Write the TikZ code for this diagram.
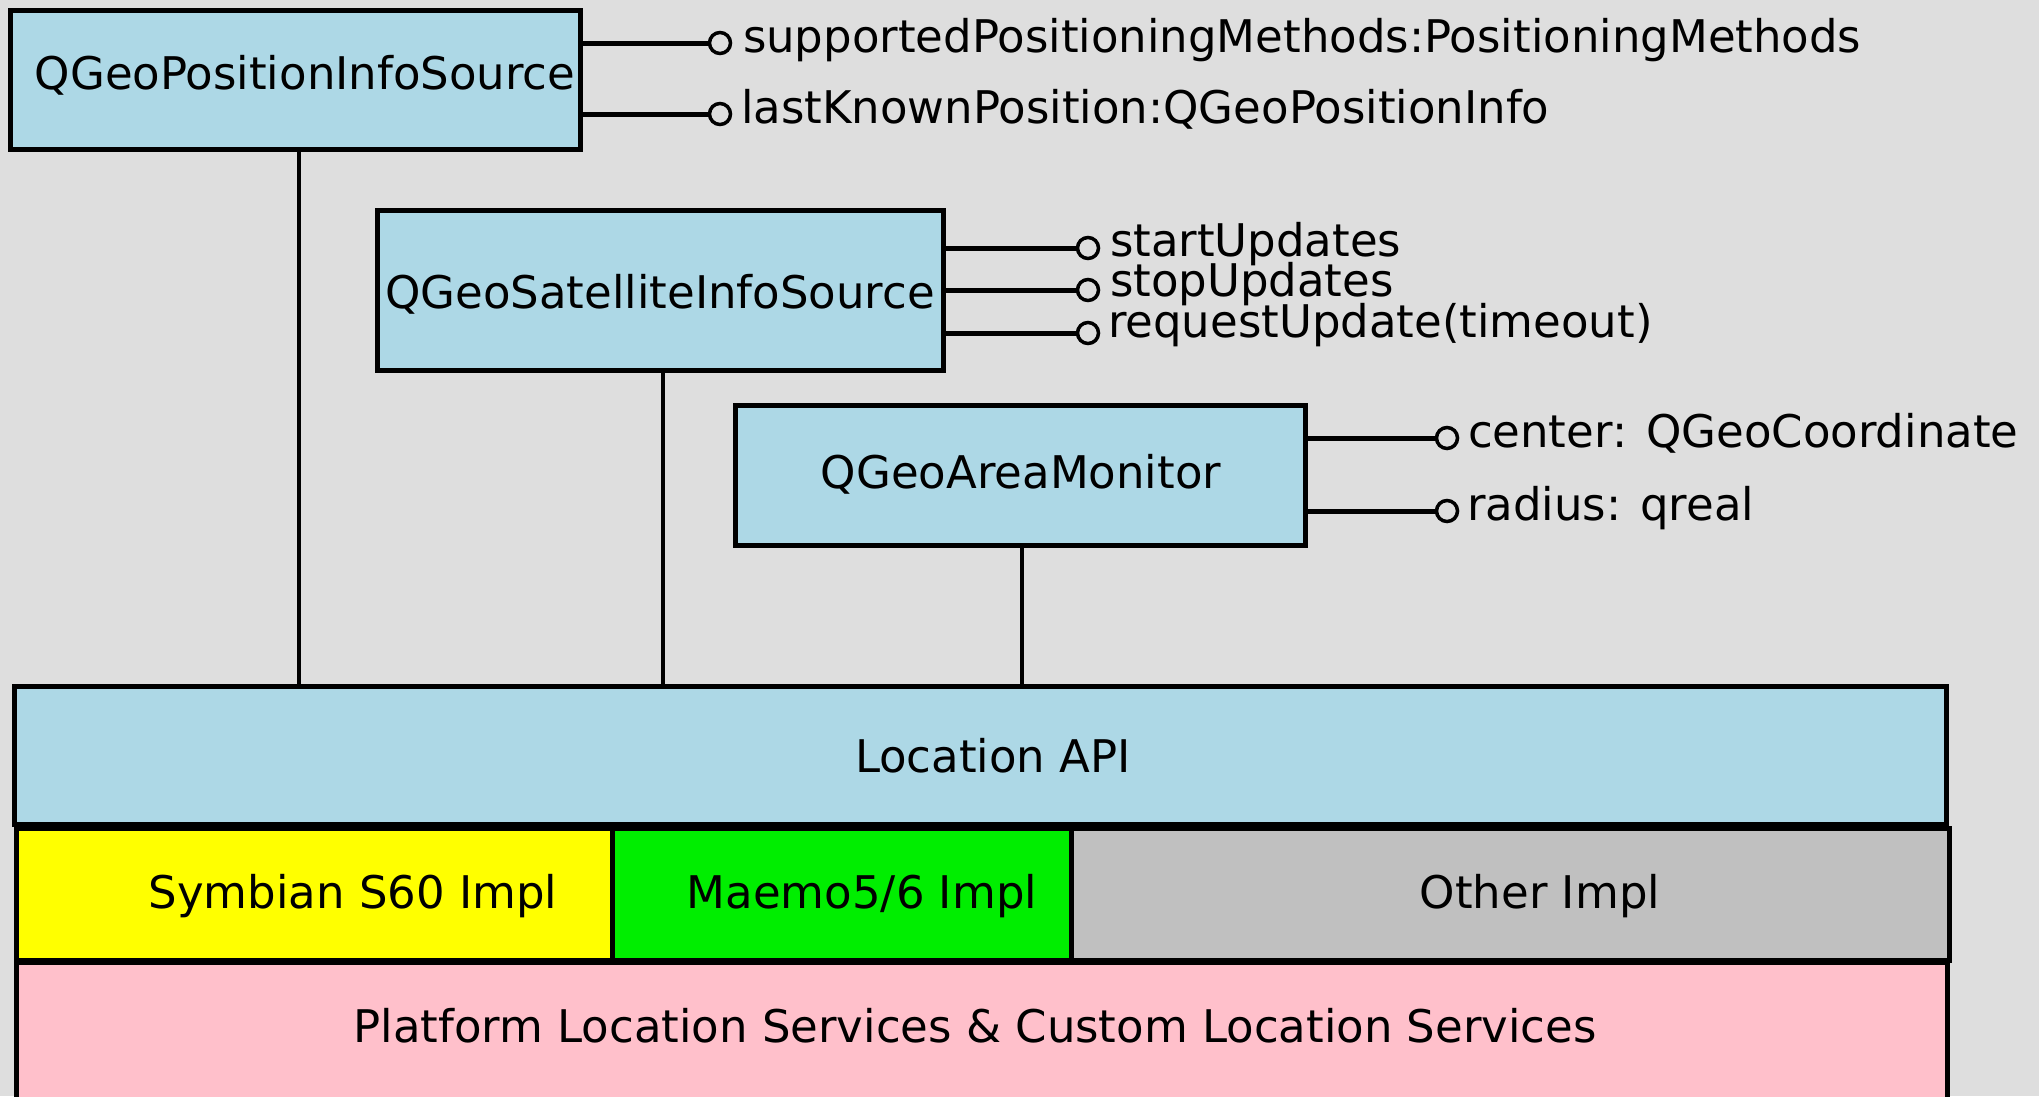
\documentclass[tikz,border=0pt]{standalone}
\usepackage{fontspec}
\setmainfont{DejaVu Sans}
\definecolor{bg}{RGB}{222,222,222}
\definecolor{boxblue}{RGB}{173,216,230}
\definecolor{impyellow}{RGB}{255,255,0}
\definecolor{impgreen}{RGB}{0,238,0}
\definecolor{impgray}{RGB}{192,192,192}
\definecolor{platpink}{RGB}{255,192,203}
\begin{document}
\begin{tikzpicture}[x=1pt,y=-1pt,
  every node/.style={font=\fontsize{45}{54}\selectfont, inner sep=0pt, outer sep=0pt},
  block/.style={draw=black, line width=5pt, rectangle},
  port/.style={draw=black, line width=3.5pt, circle, fill=bg, minimum size=21pt},
  link/.style={draw=black, line width=5pt},
  vlink/.style={draw=black, line width=3.5pt},
  annot/.style={anchor=base west},
  btext/.style={anchor=base}]
\useasboundingbox (0,0) rectangle (2039,1096);
\fill[bg] (0,0) rectangle (2039,1096);

% upper class boxes
\node[block, fill=boxblue, minimum width=570pt, minimum height=139pt] (b1) at (295,79.5) {};
\node[btext] (t1) at (305,89) {QGeoPositionInfoSource};
\node[block, fill=boxblue, minimum width=566pt, minimum height=160pt] (b2) at (660,290) {};
\node[btext] (t2) at (660,308) {QGeoSatelliteInfoSource};
\node[block, fill=boxblue, minimum width=570pt, minimum height=140pt] (b3) at (1020,475) {};
\node[btext] (t3) at (1021,488) {QGeoAreaMonitor};

% ports
\node[port] (p11) at (720,43) {};
\node[port] (p12) at (720,114) {};
\node[port] (p21) at (1088,248) {};
\node[port] (p22) at (1088,290) {};
\node[port] (p23) at (1088,333) {};
\node[port] (p31) at (1447,438) {};
\node[port] (p32) at (1447,511) {};

\draw[link] (b1.east |- p11) -- (p11.west);
\draw[link] (b1.east |- p12) -- (p12.west);
\draw[link] (b2.east |- p21) -- (p21.west);
\draw[link] (b2.east |- p22) -- (p22.west);
\draw[link] (b2.east |- p23) -- (p23.west);
\draw[link] (b3.east |- p31) -- (p31.west);
\draw[link] (b3.east |- p32) -- (p32.west);

\node[annot] (a11) at (743,52) {supportedPositioningMethods:PositioningMethods};
\node[annot] (a12) at (741,123) {lastKnownPosition:QGeoPositionInfo};
\node[annot] (a21) at (1110,256) {startUpdates};
\node[annot] (a22) at (1110,296) {stopUpdates};
\node[annot] (a23) at (1108,337) {requestUpdate(timeout)};
\node[annot] (a31) at (1468,447) {center: QGeoCoordinate};
\node[annot] (a32) at (1467,520) {radius: qreal};

% layers
\node[block, fill=platpink, minimum width=1931pt, minimum height=158pt] (plat) at (981.5,1041) {};
\node[btext] (tplat) at (975,1042) {Platform Location Services \& Custom Location Services};
\node[block, fill=impyellow, minimum width=596pt, minimum height=132pt] (sym) at (314,894) {};
\node[block, fill=impgreen, minimum width=459pt, minimum height=132pt] (mae) at (841.5,894) {};
\node[block, fill=impgray, minimum width=878pt, minimum height=132pt] (oth) at (1510,894) {};
\node[btext] (tsym) at (353,908) {Symbian S60 Impl};
\node[btext] (tmae) at (862,908) {Maemo5/6 Impl};
\node[btext] (toth) at (1540,908) {Other Impl};
\node[block, fill=boxblue, minimum width=1932pt, minimum height=138pt] (api) at (980,755) {};
\node[btext] (tapi) at (993,772) {Location API};

% vertical connectors
\coordinate (v1) at ([xshift=4pt]b1.south);
\coordinate (v2) at ([xshift=3pt]b2.south);
\coordinate (v3) at ([xshift=2pt]b3.south);
\draw[vlink] (v1) -- (v1 |- api.north);
\draw[vlink] (v2) -- (v2 |- api.north);
\draw[vlink] (v3) -- (v3 |- api.north);
\end{tikzpicture}
\end{document}
